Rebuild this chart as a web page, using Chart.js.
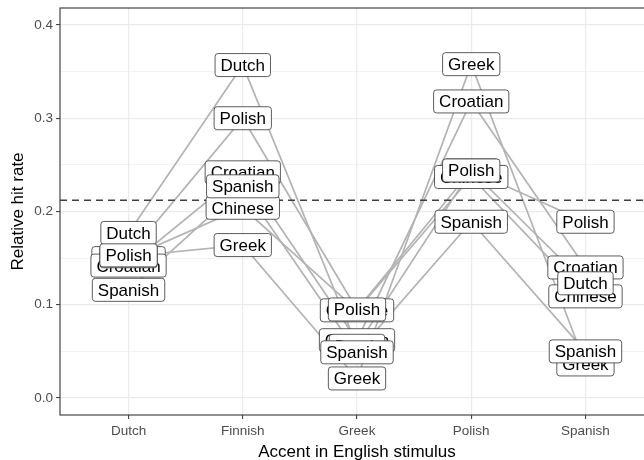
<!DOCTYPE html>
<html><head><meta charset="utf-8">
<script src="https://cdn.jsdelivr.net/npm/chart.js@4.4.1/dist/chart.umd.min.js"></script>
<style>
html,body{margin:0;padding:0;overflow:hidden;background:#fff;width:644px;height:460px}
#wrap{width:656px;height:460px}
</style></head>
<body><div id="wrap"><canvas id="c" width="656" height="460"></canvas></div>
<script>
const categories = ['Dutch', 'Finnish', 'Greek', 'Polish', 'Spanish'];
const groups = ['Chinese', 'Croatian', 'Dutch', 'Greek', 'Polish', 'Spanish'];
const chineseL1  = [0.150, 0.204, 0.094, 0.237, 0.109];
const croatianL1 = [0.142, 0.242, 0.062, 0.318, 0.140];
const dutchL1    = [0.177, 0.357, 0.056, 0.244, 0.123];
const greekL1    = [0.152, 0.164, 0.021, 0.358, 0.036];
const polishL1   = [0.153, 0.300, 0.095, 0.244, 0.189];
const spanishL1  = [0.116, 0.227, 0.049, 0.189, 0.050];
const referenceRate = 0.212;
const yTickValues = [0, 0.05, 0.1, 0.15, 0.2, 0.25, 0.3, 0.35, 0.4];

const seriesValues = [chineseL1, croatianL1, dutchL1, greekL1, polishL1, spanishL1];
const FONT = '"Liberation Sans", Arial, Helvetica, sans-serif';
const isMajor = v => Math.abs(v * 10 - Math.round(v * 10)) < 1e-6;

const overlay = {
  id: 'overlay',
  afterDatasetsDraw(chart) {
    const {ctx, chartArea: a, scales: {x, y}} = chart;
    ctx.save();
    ctx.beginPath();
    ctx.rect(a.left, a.top, a.right - a.left, a.bottom - a.top);
    ctx.clip();
    const yy = y.getPixelForValue(referenceRate);
    ctx.beginPath();
    ctx.setLineDash([7, 5]);
    ctx.strokeStyle = '#404040';
    ctx.lineWidth = 1.5;
    ctx.moveTo(a.left, yy);
    ctx.lineTo(a.right, yy);
    ctx.stroke();
    ctx.setLineDash([]);
    ctx.font = '17px ' + FONT;
    ctx.textAlign = 'center';
    ctx.textBaseline = 'alphabetic';
    chart.data.datasets.forEach(ds => {
      ds.data.forEach(p => {
        const px = x.getPixelForValue(p.x), py = y.getPixelForValue(p.y);
        const w = ctx.measureText(ds.label).width + 11, h = 23;
        ctx.beginPath();
        ctx.roundRect(px - w / 2, py - h / 2, w, h, 3);
        ctx.fillStyle = '#fff';
        ctx.fill();
        ctx.strokeStyle = '#333';
        ctx.lineWidth = 0.8;
        ctx.stroke();
        ctx.fillStyle = '#000';
        ctx.fillText(ds.label, px, py + 6);
      });
    });
    ctx.restore();
  },
  afterDraw(chart) {
    const {ctx, chartArea: a} = chart;
    ctx.save();
    ctx.strokeStyle = '#333';
    ctx.lineWidth = 1.1;
    ctx.strokeRect(a.left, a.top, a.right - a.left, a.bottom - a.top);
    ctx.restore();
  }
};

new Chart(document.getElementById('c'), {
  type: 'line',
  data: {
    datasets: groups.map((g, gi) => ({
      label: g,
      data: categories.map((c, i) => ({x: i, y: seriesValues[gi][i]})),
      borderColor: '#b3b3b3',
      borderWidth: 1.7,
      pointRadius: 0,
      tension: 0,
      fill: false
    }))
  },
  options: {
    responsive: false,
    animation: false,
    layout: {padding: {top: 8, right: 2, left: 0, bottom: 0}},
    plugins: {legend: {display: false}, tooltip: {enabled: false}},
    scales: {
      x: {
        type: 'linear',
        min: -0.6, max: 4.6,
        afterBuildTicks: s => { s.ticks = categories.map((c, i) => ({value: i})); },
        afterFit: s => { s.height = 45; },
        ticks: {
          callback: v => categories[v] ?? '',
          color: '#4d4d4d',
          font: {size: 13.5, family: FONT},
          padding: 4, autoSkip: false, maxRotation: 0
        },
        grid: {color: '#ebebeb', lineWidth: 1.2, tickLength: 4, tickColor: '#333', tickWidth: 1},
        border: {display: false},
        title: {
          display: true, text: 'Accent in English stimulus', color: '#000',
          font: {size: 17, family: FONT, lineHeight: 0.9},
          padding: {top: 0, bottom: 0}
        }
      },
      y: {
        type: 'linear',
        min: -0.0182, max: 0.4182,
        afterBuildTicks: s => { s.ticks = yTickValues.map(v => ({value: v})); },
        afterFit: s => { s.width = 60; s.paddingTop = 0; s.paddingBottom = 0; },
        ticks: {
          callback: v => isMajor(v) ? v.toFixed(1) : '',
          color: '#4d4d4d',
          font: {size: 13.5, family: FONT, lineHeight: 0.8},
          padding: 3, autoSkip: false
        },
        grid: {
          color: '#ebebeb',
          lineWidth: c => (c.tick && !isMajor(c.tick.value)) ? 0.6 : 1.2,
          tickLength: 4,
          tickColor: c => (c.tick && !isMajor(c.tick.value)) ? 'rgba(0,0,0,0)' : '#333',
          tickWidth: 1
        },
        border: {display: false},
        title: {
          display: true, text: 'Relative hit rate', color: '#000',
          font: {size: 17, family: FONT},
          padding: {top: 8, bottom: 0}
        }
      }
    }
  },
  plugins: [overlay]
});
</script>
</body></html>
